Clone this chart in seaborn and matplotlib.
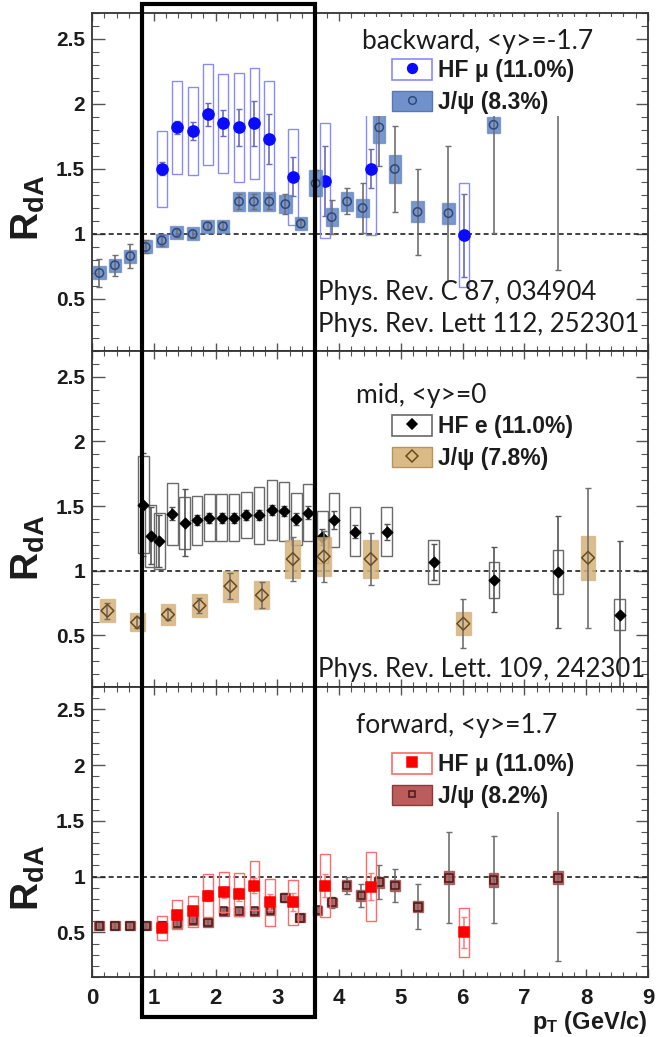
import numpy as np
import pandas as pd
import seaborn as sns
import matplotlib
matplotlib.use("Agg")
import matplotlib.pyplot as plt
from matplotlib.patches import Rectangle
from matplotlib.lines import Line2D
from matplotlib.legend_handler import HandlerTuple
from matplotlib.ticker import MultipleLocator, FuncFormatter
from matplotlib.transforms import blended_transform_factory

# ---------------- data ----------------
# backward rapidity
bwd_jpsi_pt = [0.12, 0.37, 0.62, 0.87, 1.13, 1.37, 1.63, 1.87, 2.12, 2.38, 2.62, 2.87,
               3.13, 3.38, 3.62, 3.88, 4.13, 4.38, 4.65, 4.90, 5.27, 5.77, 6.50, 7.54]
bwd_jpsi_R = [0.70, 0.76, 0.83, 0.90, 0.95, 1.01, 1.00, 1.06, 1.06, 1.25, 1.25, 1.25,
              1.23, 1.08, 1.39, 1.13, 1.25, 1.20, 1.82, 1.50, 1.17, 1.16, 1.84, 2.10]
bwd_jpsi_stat_lo = [0.11, 0.08, 0.09, 0.05, 0.04, 0.03, 0.03, 0.03, 0.03, 0.06, 0.06, 0.06,
                    0.08, 0.03, 0.10, 0.13, 0.10, 0.19, 0.30, 0.33, 0.33, 0.52, 0.83, 1.38]
bwd_jpsi_stat_hi = [0.11, 0.08, 0.09, 0.05, 0.04, 0.03, 0.03, 0.03, 0.03, 0.06, 0.06, 0.06,
                    0.08, 0.03, 0.10, 0.13, 0.10, 0.19, 0.30, 0.33, 0.33, 0.52, 0.90, 1.38]
bwd_jpsi_sys = [0.05, 0.05, 0.05, 0.05, 0.05, 0.05, 0.05, 0.05, 0.05, 0.07, 0.07, 0.07,
                0.07, 0.05, 0.10, 0.07, 0.07, 0.07, 0.12, 0.11, 0.08, 0.08, 0.06, 0.08]

bwd_hf_pt = [1.13, 1.37, 1.63, 1.88, 2.12, 2.38, 2.63, 2.87, 3.25, 3.77, 4.52, 6.02]
bwd_hf_R = [1.50, 1.82, 1.79, 1.92, 1.85, 1.82, 1.85, 1.73, 1.44, 1.41, 1.50, 0.99]
bwd_hf_stat = [0.05, 0.05, 0.07, 0.09, 0.10, 0.14, 0.17, 0.19, 0.15, 0.27, 0.15, 0.32]
bwd_hf_sys = [0.29, 0.355, 0.34, 0.39, 0.38, 0.42, 0.43, 0.45, 0.37, 0.44, 0.51, 0.40]

# mid rapidity
mid_hf_pt = [0.83, 0.95, 1.09, 1.30, 1.50, 1.70, 1.90, 2.10, 2.30, 2.50, 2.70, 2.91,
             3.11, 3.31, 3.50, 3.73, 3.92, 4.26, 4.77, 5.53, 6.51, 7.54, 8.54]
mid_hf_R = [1.51, 1.27, 1.23, 1.44, 1.37, 1.39, 1.41, 1.41, 1.41, 1.43, 1.43, 1.47,
            1.46, 1.40, 1.45, 1.26, 1.39, 1.30, 1.30, 1.07, 0.93, 0.99, 0.66]
mid_hf_stat = [0.40, 0.22, 0.20, 0.05, 0.26, 0.04, 0.04, 0.04, 0.04, 0.04, 0.04, 0.04,
               0.04, 0.05, 0.05, 0.06, 0.07, 0.05, 0.06, 0.14, 0.25, 0.43, 0.57]
mid_hf_sys = [0.375, 0.24, 0.22, 0.24, 0.20, 0.19, 0.18, 0.18, 0.18, 0.18, 0.22, 0.23,
              0.23, 0.20, 0.22, 0.20, 0.21, 0.19, 0.19, 0.17, 0.14, 0.17, 0.12]

mid_jpsi_pt = [0.25, 0.73, 1.23, 1.74, 2.24, 2.75, 3.25, 3.75, 4.51, 6.01, 8.03]
mid_jpsi_R = [0.69, 0.60, 0.66, 0.73, 0.88, 0.81, 1.09, 1.11, 1.09, 0.59, 1.10]
mid_jpsi_stat = [0.06, 0.04, 0.04, 0.06, 0.10, 0.10, 0.17, 0.20, 0.20, 0.19, 0.54]
mid_jpsi_sys = [0.09, 0.07, 0.08, 0.09, 0.12, 0.11, 0.15, 0.15, 0.15, 0.09, 0.17]

# forward rapidity
fwd_jpsi_pt = [0.12, 0.37, 0.62, 0.87, 1.13, 1.38, 1.63, 1.88, 2.13, 2.38, 2.63, 2.89,
               3.12, 3.37, 3.65, 3.89, 4.12, 4.36, 4.65, 4.90, 5.28, 5.78, 6.50, 7.54]
fwd_jpsi_R = [0.56, 0.56, 0.56, 0.56, 0.56, 0.58, 0.61, 0.59, 0.69, 0.69, 0.69, 0.70,
              0.81, 0.63, 0.70, 0.77, 0.92, 0.83, 0.95, 0.92, 0.73, 0.99, 0.97, 0.99]
fwd_jpsi_stat = [0.03, 0.03, 0.03, 0.03, 0.03, 0.03, 0.03, 0.03, 0.03, 0.03, 0.03, 0.03,
                 0.04, 0.03, 0.03, 0.05, 0.08, 0.10, 0.15, 0.15, 0.20, 0.41, 0.39, 0.75]
fwd_jpsi_sys = [0.04, 0.04, 0.04, 0.04, 0.04, 0.04, 0.04, 0.04, 0.04, 0.04, 0.04, 0.04,
                0.04, 0.04, 0.04, 0.04, 0.05, 0.05, 0.05, 0.05, 0.05, 0.06, 0.06, 0.06]

fwd_hf_pt = [1.13, 1.37, 1.63, 1.88, 2.13, 2.38, 2.63, 2.88, 3.26, 3.77, 4.52, 6.02]
fwd_hf_R = [0.54, 0.66, 0.69, 0.83, 0.86, 0.84, 0.92, 0.77, 0.77, 0.92, 0.91, 0.50]
fwd_hf_stat = [0.03, 0.04, 0.04, 0.05, 0.05, 0.06, 0.07, 0.07, 0.08, 0.10, 0.12, 0.14]
fwd_hf_sys = [0.105, 0.13, 0.14, 0.19, 0.18, 0.19, 0.22, 0.21, 0.20, 0.285, 0.31, 0.22]

panel_titles = ["backward, <y>=-1.7", "mid, <y>=0", "forward, <y>=1.7"]
hf_labels = ["HF \u03bc (11.0%)", "HF e (11.0%)", "HF \u03bc (11.0%)"]
jpsi_labels = ["J/\u03c8 (8.3%)", "J/\u03c8 (7.8%)", "J/\u03c8 (8.2%)"]
refs = [["Phys. Rev. C 87, 034904", "Phys. Rev. Lett 112, 252301"],
        ["Phys. Rev. Lett. 109, 242301"], []]
x_ticks = [0, 1, 2, 3, 4, 5, 6, 7, 8, 9]
highlight_pt = (0.81, 3.61)

# ---------------- style ----------------
sns.set_style("ticks")
plt.rcParams['font.family'] = ['Liberation Sans', 'DejaVu Sans']
plt.rcParams['font.weight'] = 'bold'
plt.rcParams['mathtext.fontset'] = 'custom'
plt.rcParams['mathtext.rm'] = 'Liberation Sans:bold'
plt.rcParams['mathtext.it'] = 'Liberation Sans:bold'
plt.rcParams['mathtext.bf'] = 'Liberation Sans:bold'

W, H = 656, 1037
fig = plt.figure(figsize=(W / 100, H / 100), dpi=100)

L, R_ = 92, 648
panel_px = [(13, 351), (351, 687), (687, 977)]
axes = []
for (t, b) in panel_px:
    axes.append(fig.add_axes([L / W, 1 - b / H, (R_ - L) / W, (b - t) / H]))

LATO = ['Lato', 'DejaVu Sans']
TXT = '#1c1c1c'


def style_axes(ax, show_x):
    ax.set_xlim(0, 9)
    ax.set_ylim(0.1, 2.7)
    ax.set_xticks(x_ticks)
    ax.xaxis.set_minor_locator(MultipleLocator(0.2))
    ax.yaxis.set_major_locator(MultipleLocator(0.5))
    ax.yaxis.set_minor_locator(MultipleLocator(0.1))
    ax.yaxis.set_major_formatter(FuncFormatter(lambda v, p: f"{v:g}"))
    ax.tick_params(axis='y', which='major', direction='in', length=9, width=1.0,
                   left=True, right=True, labelsize=15, pad=5, color='#555555',
                   labelcolor=TXT)
    ax.tick_params(axis='y', which='minor', direction='in', length=5, width=0.8,
                   left=True, right=True, color='#555555')
    ax.tick_params(axis='x', which='major', direction='in', length=6, width=1.0,
                   top=True, bottom=True, labelsize=16, pad=8, color='#555555',
                   labelcolor=TXT, labelbottom=show_x)
    ax.tick_params(axis='x', which='minor', direction='in', length=3.5, width=0.8,
                   top=True, bottom=True, color='#555555')
    for s in ax.spines.values():
        s.set_linewidth(1.3)
        s.set_color('#333333')
    ax.axhline(1.0, color='#222222', ls=(0, (3, 2)), lw=1.2, zorder=1.5)


def draw_series(ax, pt, R, lo, hi, sys, hw, box_fc, box_ec, err_c, marker, ms,
                m_fc, m_ec, z):
    pt = np.asarray(pt); R = np.asarray(R); sys = np.asarray(sys)
    ax.bar(pt, 2 * sys, bottom=R - sys, width=2 * hw, facecolor=box_fc,
           edgecolor=box_ec, linewidth=1.0, zorder=z)
    ax.errorbar(pt, R, yerr=[lo, hi], fmt='none', ecolor=err_c, elinewidth=1.2,
                capsize=2, capthick=1.0, zorder=z + 0.1)
    df = pd.DataFrame({"pt": pt, "R": R})
    sns.scatterplot(data=df, x="pt", y="R", marker=marker, s=ms ** 2,
                    facecolor=m_fc, edgecolor=m_ec, linewidth=1.1, ax=ax,
                    legend=False, zorder=z + 0.2)


# ---- panel 1: backward ----
ax = axes[0]
style_axes(ax, False)
draw_series(ax, bwd_hf_pt, bwd_hf_R, bwd_hf_stat, bwd_hf_stat, bwd_hf_sys, 0.08,
            'none', '#8a8aff', '#6a6ac0', 'o', 8, '#0a0aff', '#0a0aff', 3)
draw_series(ax, bwd_jpsi_pt, bwd_jpsi_R, bwd_jpsi_stat_lo, bwd_jpsi_stat_hi, bwd_jpsi_sys,
            0.1, (0.38, 0.52, 0.78, 0.85), (0.35, 0.48, 0.72, 0.6), '#6f6f6f', 'o', 6,
            'none', '#2f4a7a', 4)

# ---- panel 2: mid ----
ax = axes[1]
style_axes(ax, False)
draw_series(ax, mid_hf_pt, mid_hf_R, mid_hf_stat, mid_hf_stat, mid_hf_sys, 0.085,
            'none', '#6a6a6a', '#555555', 'D', 5.3, '#000000', '#000000', 3)
draw_series(ax, mid_jpsi_pt, mid_jpsi_R, mid_jpsi_stat, mid_jpsi_stat, mid_jpsi_sys, 0.12,
            (0.84, 0.70, 0.48, 0.85), (0.80, 0.66, 0.45, 0.6), '#6f6f6f', 'D', 6.5,
            'none', '#6b4a1e', 4)

# ---- panel 3: forward ----
ax = axes[2]
style_axes(ax, True)
draw_series(ax, fwd_jpsi_pt, fwd_jpsi_R, fwd_jpsi_stat, fwd_jpsi_stat, fwd_jpsi_sys, 0.08,
            (0.72, 0.33, 0.33, 0.9), (0.62, 0.28, 0.28, 0.8), '#6f6f6f', 's', 5.5,
            'none', '#4a1818', 3)
draw_series(ax, fwd_hf_pt, fwd_hf_R, fwd_hf_stat, fwd_hf_stat, fwd_hf_sys, 0.08,
            'none', '#ff6a6a', '#ff8080', 's', 7.5, '#ff0000', '#ff0000', 4)

for ax in axes:
    ax.set_xlabel("")
    ax.set_ylabel("")


# ---- legends, titles, references ----
def px_to_axes(ax_i, x, y):
    t, b = panel_px[ax_i]
    return (x - L) / (R_ - L), 1 - (y - t) / (b - t)


legend_specs = [
    dict(hbox=('white', '#8a8aff'), hm=('o', '#0a0aff', '#0a0aff', 7),
         jbox=((0.38, 0.52, 0.78, 0.9), '#5a78b0'), jm=('o', 'none', '#2f4a7a', 5.5),
         white=(355, 17, 632, 116), title_xy=(362, 42), leg_xy=(392, 59)),
    dict(hbox=('white', '#6a6a6a'), hm=('D', '#000000', '#000000', 5),
         jbox=((0.84, 0.70, 0.48, 0.9), '#b8935a'), jm=('D', 'none', '#6b4a1e', 6),
         white=(350, 375, 632, 472), title_xy=(356, 395), leg_xy=(392, 415)),
    dict(hbox=('white', '#ff6a6a'), hm=('s', '#ff0000', '#ff0000', 6.5),
         jbox=((0.72, 0.33, 0.33, 0.95), '#8a3a3a'), jm=('s', 'none', '#4a1818', 5),
         white=(350, 705, 632, 812), title_xy=(356, 725), leg_xy=(392, 753)),
]

for i, ax in enumerate(axes):
    sp = legend_specs[i]
    x0, y0, x1, y1 = sp['white']
    ax0, ay1 = px_to_axes(i, x0, y1)
    ax1, ay0 = px_to_axes(i, x1, y0)
    ax.add_patch(Rectangle((ax0, ay1), ax1 - ax0, ay0 - ay1, transform=ax.transAxes,
                           facecolor='white', edgecolor='none', zorder=8))
    tx, ty = px_to_axes(i, *sp['title_xy'])
    ax.text(tx, ty, panel_titles[i], transform=ax.transAxes, family=LATO,
            weight='normal', fontsize=19, ha='left', va='center', color=TXT, zorder=9)
    h_hf = (Rectangle((0, 0), 1, 1, facecolor=sp['hbox'][0], edgecolor=sp['hbox'][1], lw=1.2),
            Line2D([], [], ls='none', marker=sp['hm'][0], mfc=sp['hm'][1], mec=sp['hm'][2],
                   ms=sp['hm'][3], mew=1.1))
    h_jp = (Rectangle((0, 0), 1, 1, facecolor=sp['jbox'][0], edgecolor=sp['jbox'][1], lw=1.0),
            Line2D([], [], ls='none', marker=sp['jm'][0], mfc=sp['jm'][1], mec=sp['jm'][2],
                   ms=sp['jm'][3], mew=1.1))
    lx, ly = px_to_axes(i, *sp['leg_xy'])
    leg = ax.legend(handles=[h_hf, h_jp], labels=[hf_labels[i], jpsi_labels[i]],
                    loc='upper left', bbox_to_anchor=(lx, ly), frameon=False,
                    prop={'weight': 'bold', 'size': 16.5}, handlelength=1.75,
                    handleheight=1.0, handletextpad=0.25, labelspacing=0.38,
                    borderpad=0, borderaxespad=0,
                    handler_map={tuple: HandlerTuple(ndivide=1, pad=0)})
    for t in leg.get_texts():
        t.set_color(TXT)
    leg.set_zorder(9)

ref_pos = [[(318, 293), (318, 325)], [(318, 670)], []]
for i, ax in enumerate(axes):
    for txt, (x, y) in zip(refs[i], ref_pos[i]):
        rx, ry = px_to_axes(i, x, y)
        ax.text(rx, ry, txt, transform=ax.transAxes, family=LATO, weight='normal',
                fontsize=18.5, ha='left', va='center', color=TXT, zorder=9)

# y-axis titles
for yc in [208, 548, 878]:
    fig.text(28 / W, 1 - yc / H, r'R$_{dA}$', rotation=90, fontsize=28,
             ha='center', va='center', color=TXT)

# x-axis title
fig.text(R_ / W, 1 - 1022 / H, r'p$_{T}$ (GeV/c)', fontsize=17, ha='right',
         va='center', color=TXT)

# highlight rectangle across all panels (x in data units, y in figure units)
trans = blended_transform_factory(axes[2].transData, fig.transFigure)
fig.add_artist(Rectangle((highlight_pt[0], 1 - 1017 / H), highlight_pt[1] - highlight_pt[0],
                         (1017 - 4) / H, transform=trans, fill=False, edgecolor='black',
                         linewidth=3, zorder=30))

fig.savefig("out.png", dpi=100)
